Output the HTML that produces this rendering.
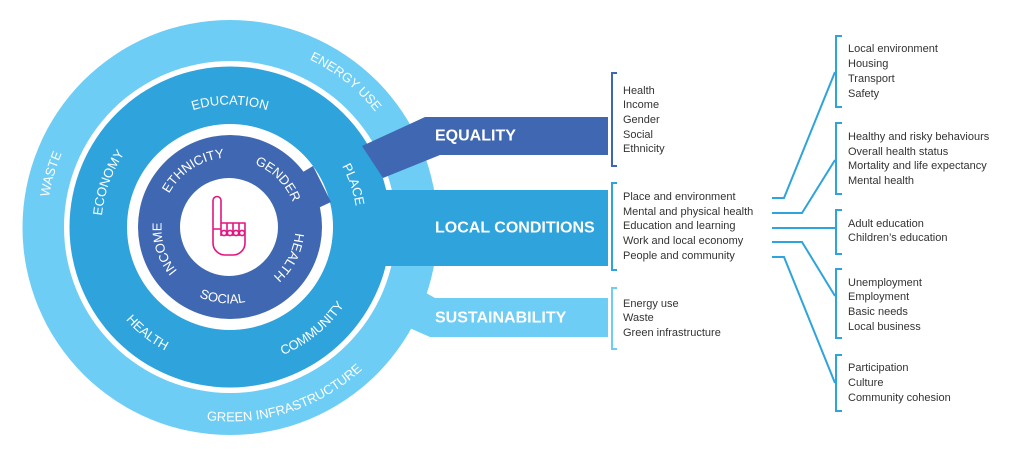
<!DOCTYPE html>
<html><head><meta charset="utf-8"><style>
html,body{margin:0;padding:0;background:#fff;}
svg{display:block}
</style></head><body>
<svg width="1024" height="453" viewBox="0 0 1024 453" xmlns="http://www.w3.org/2000/svg" font-family="Liberation Sans, Arial, sans-serif">
<defs>
<path id="cw183" d="M46.5,227 A183.5,183.5 0 0 1 413.5,227"/>
<path id="cw185" d="M44.5,227 A185.5,185.5 0 0 1 415.5,227"/>
<path id="cw122" d="M107.5,227 A122.5,122.5 0 0 1 352.5,227"/>
<path id="cw128" d="M101.5,227 A128.5,128.5 0 0 1 358.5,227"/>
<path id="cw127" d="M102.5,227 A127.5,127.5 0 0 1 357.5,227"/>
<path id="cw69" d="M160.5,227 A69.5,69.5 0 0 1 299.5,227"/>
<path id="cw67" d="M162.5,227 A67.5,67.5 0 0 1 297.5,227"/>
<path id="cw65" d="M164.5,227 A65.5,65.5 0 0 1 295.5,227"/>
<path id="cw68" d="M161.5,227 A68.5,68.5 0 0 1 298.5,227"/>
<path id="ccw194" d="M35.5,227 A194.5,194.5 0 0 0 424.5,227"/>
<path id="ccw139" d="M90.5,227 A139.5,139.5 0 0 0 369.5,227"/>
<path id="ccw138" d="M91.5,227 A138.5,138.5 0 0 0 368.5,227"/>
<path id="ccw76" d="M153.5,227 A76.5,76.5 0 0 0 306.5,227"/>
</defs>

<circle cx="230" cy="227.5" r="207.5" fill="#6dcdf5"/>
<polygon points="412,285 435,298 608,298 608,337 430,337 405,326" fill="#6dcdf5"/>
<circle cx="230" cy="227" r="166" fill="#fff"/>
<rect x="360" y="190" width="248" height="76" fill="#2fa3dc"/>
<circle cx="230" cy="227" r="160.5" fill="#2fa3dc"/>
<polygon points="362,146 425,117 608,117 608,155 440,155 383,178" fill="#4068b2"/>
<circle cx="230" cy="227" r="103" fill="#fff"/>
<polygon points="298,175 313,166 331,202 314,210" fill="#4068b2"/>
<circle cx="230" cy="227" r="92" fill="#4068b2"/>
<circle cx="229" cy="227" r="49" fill="#fff"/>

<g fill="none" stroke="#e5147f" stroke-width="1.6" stroke-linejoin="round">
<path d="M213,224 L213,200.5 A4,4 0 0 1 221,200.5 L221,223 L245,223 L245,243 A12,12 0 0 1 233,255 L225,255 A12,12 0 0 1 213,243 Z"/>
<path d="M221,223 L221,236 M227,223 L227,236 M233,223 L233,236 M239,223 L239,236 M213,229 L221,229"/>
<circle cx="224" cy="233" r="2.6"/><circle cx="230" cy="233" r="2.6"/><circle cx="236" cy="233" r="2.6"/><circle cx="242" cy="233" r="2.6"/>
</g>

<g fill="#fff" font-size="13" text-anchor="middle">
<g transform="rotate(-73.5 230 227)"><text><textPath href="#cw183" startOffset="50%">WASTE</textPath></text></g>
<g transform="rotate(38.5 230 227)"><text><textPath href="#cw185" startOffset="50%">ENERGY USE</textPath></text></g>
<g transform="rotate(-18 230 227)"><text><textPath href="#ccw194" startOffset="50%">GREEN INFRASTRUCTURE</textPath></text></g>
<g transform="rotate(0 230 227)"><text><textPath href="#cw122" startOffset="50%">EDUCATION</textPath></text></g>
<g transform="rotate(-70 230 227)"><text><textPath href="#cw128" startOffset="50%">ECONOMY</textPath></text></g>
<g transform="rotate(71 230 227)"><text><textPath href="#cw127" startOffset="50%">PLACE</textPath></text></g>
<g transform="rotate(38 230 227)"><text><textPath href="#ccw139" startOffset="50%">HEALTH</textPath></text></g>
<g transform="rotate(-39 230 227)"><text><textPath href="#ccw138" startOffset="50%">COMMUNITY</textPath></text></g>
<g transform="rotate(-33 230 227)"><text><textPath href="#cw69" startOffset="50%">ETHNICITY</textPath></text></g>
<g transform="rotate(45 230 227)"><text><textPath href="#cw67" startOffset="50%">GENDER</textPath></text></g>
<g transform="rotate(117 230 227)"><text><textPath href="#cw65" startOffset="50%">HEALTH</textPath></text></g>
<g transform="rotate(252 230 227)"><text><textPath href="#cw68" startOffset="50%">INCOME</textPath></text></g>
<g transform="rotate(6 230 227)"><text><textPath href="#ccw76" startOffset="50%">SOCIAL</textPath></text></g>
</g>

<g fill="#fff" font-weight="bold" font-size="16" dominant-baseline="central">
<text x="435" y="136">EQUALITY</text>
<text x="435" y="228">LOCAL CONDITIONS</text>
<text x="435" y="318">SUSTAINABILITY</text>
</g>

<g fill="none" stroke-width="2">
<path d="M617,73 L612,73 L612,166 L617,166" stroke="#4068b2"/>
<path d="M617,183 L612,183 L612,270 L617,270" stroke="#2fa3dc"/>
<path d="M617,288 L612,288 L612,349 L617,349" stroke="#6dcdf5"/>
</g>

<g fill="#333" font-size="11" dominant-baseline="central">
<text x="623" y="91">Health</text>
<text x="623" y="105">Income</text>
<text x="623" y="120">Gender</text>
<text x="623" y="135">Social</text>
<text x="623" y="149">Ethnicity</text>
<text x="623" y="197">Place and environment</text>
<text x="623" y="212">Mental and physical health</text>
<text x="623" y="226">Education and learning</text>
<text x="623" y="241">Work and local economy</text>
<text x="623" y="256">People and community</text>
<text x="623" y="304">Energy use</text>
<text x="623" y="318">Waste</text>
<text x="623" y="333">Green infrastructure</text>

<text x="848" y="49">Local environment</text>
<text x="848" y="64">Housing</text>
<text x="848" y="79">Transport</text>
<text x="848" y="94">Safety</text>
<text x="848" y="137">Healthy and risky behaviours</text>
<text x="848" y="152">Overall health status</text>
<text x="848" y="166">Mortality and life expectancy</text>
<text x="848" y="181">Mental health</text>
<text x="848" y="224">Adult education</text>
<text x="848" y="238">Children’s education</text>
<text x="848" y="283">Unemployment</text>
<text x="848" y="297">Employment</text>
<text x="848" y="312">Basic needs</text>
<text x="848" y="327">Local business</text>
<text x="848" y="368">Participation</text>
<text x="848" y="383">Culture</text>
<text x="848" y="398">Community cohesion</text>
</g>

<g fill="none" stroke="#2fa3dc" stroke-width="2">
<path d="M772,198 L784,198 L835,72"/>
<path d="M772,213 L802,213 L835,160"/>
<path d="M772,228 L835,228"/>
<path d="M772,242 L802,242 L835,296"/>
<path d="M772,257 L784,257 L835,383"/>
<path d="M842,36 L836,36 L836,107 L842,107"/>
<path d="M842,123 L836,123 L836,194 L842,194"/>
<path d="M842,210 L836,210 L836,254 L842,254"/>
<path d="M842,269 L836,269 L836,338 L842,338"/>
<path d="M842,355 L836,355 L836,411 L842,411"/>
</g>
</svg>
</body></html>
